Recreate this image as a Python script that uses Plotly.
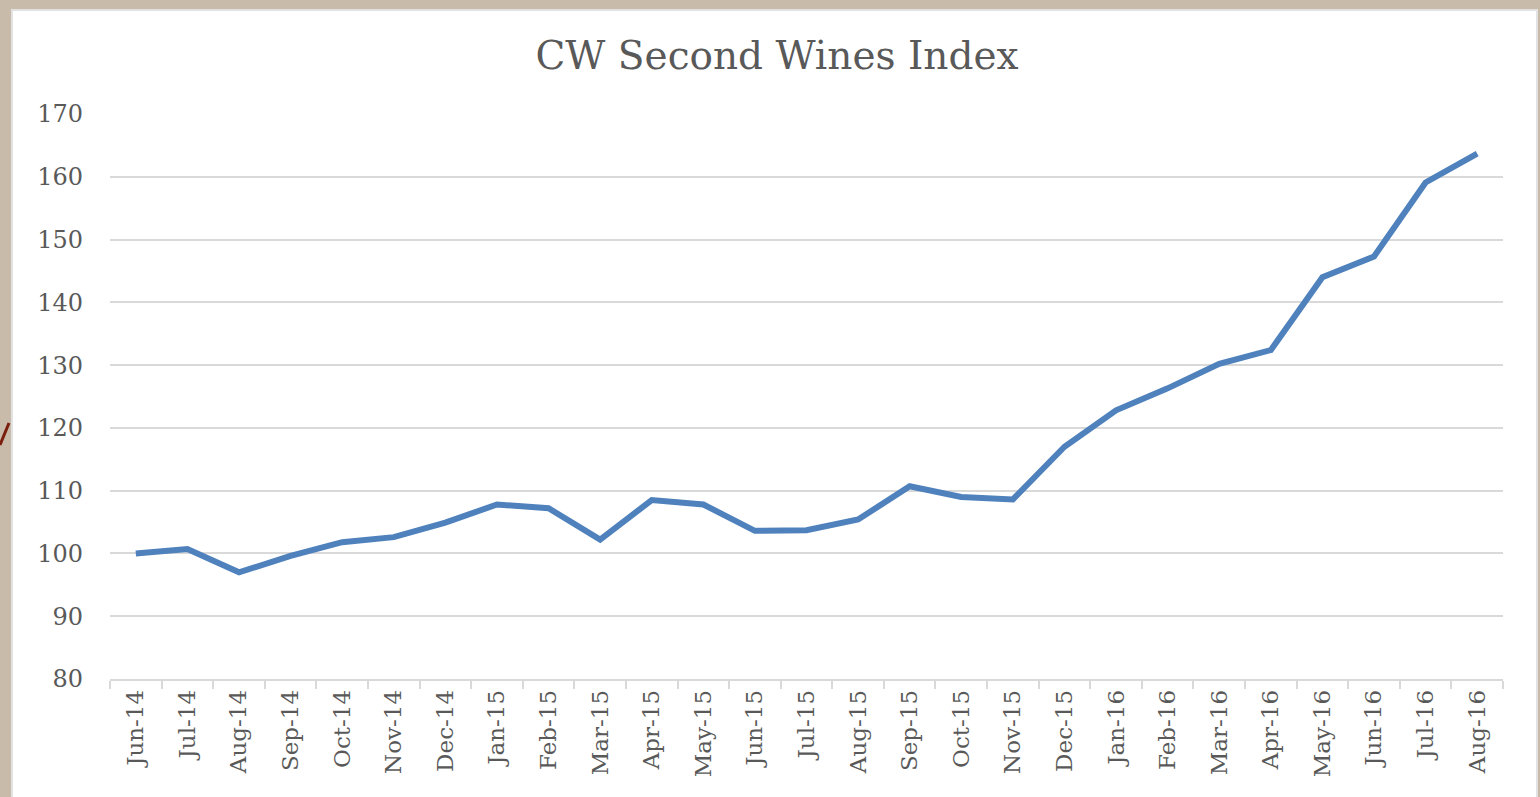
import plotly.graph_objects as go

months = ["Jun-14", "Jul-14", "Aug-14", "Sep-14", "Oct-14", "Nov-14", "Dec-14",
          "Jan-15", "Feb-15", "Mar-15", "Apr-15", "May-15", "Jun-15", "Jul-15",
          "Aug-15", "Sep-15", "Oct-15", "Nov-15", "Dec-15", "Jan-16", "Feb-16",
          "Mar-16", "Apr-16", "May-16", "Jun-16", "Jul-16", "Aug-16"]
index_values = [100.0, 100.7, 97.0, 99.6, 101.8, 102.6, 104.9,
                107.8, 107.2, 102.2, 108.5, 107.8, 103.6, 103.7,
                105.4, 110.7, 109.0, 108.6, 117.0, 122.8, 126.3,
                130.2, 132.4, 144.0, 147.3, 159.1, 163.7]
y_ticks = [80, 90, 100, 110, 120, 130, 140, 150, 160, 170]

W, H = 1540, 797
ml, mr, mt, mb = 110, 37, 114, 118
pw, ph = W - ml - mr, H - mt - mb

def px_to_paper_x(px):
    return (px - ml) / pw

def px_to_paper_y(py):
    return (H - mb - py) / ph

font_family = "DejaVu Serif, Liberation Serif, serif"

fig = go.Figure()
fig.add_trace(go.Scatter(
    x=months, y=index_values, mode="lines",
    line=dict(color="#4F81BD", width=6),
    showlegend=False, hoverinfo="x+y",
))

fig.update_layout(
    width=W, height=H,
    margin=dict(l=ml, r=mr, t=mt, b=mb),
    paper_bgcolor="#C9BBAA",
    plot_bgcolor="white",
    title=dict(text="CW Second Wines Index", x=777 / W, xref="container", y=1 - 55 / H, yref="container",
               xanchor="center", yanchor="middle",
               font=dict(family="DejaVu Serif, serif", size=39, color="#595959")),
    xaxis=dict(
        type="category", tickangle=-90, showgrid=False,
        showline=True, linecolor="#D9D9D9", linewidth=1.5,
        ticks="outside", tickson="boundaries", ticklen=8, tickcolor="#D9D9D9", tickwidth=1.5,
        tickfont=dict(family=font_family, size=23, color="#595959"),
        range=[-0.5, len(months) - 0.5], fixedrange=True,
    ),
    yaxis=dict(
        range=[80, 170], tickmode="array", tickvals=y_ticks,
        showgrid=True, gridcolor="#D9D9D9", gridwidth=1.5,
        zeroline=False, showline=False, ticks="",
        ticklabelstandoff=26,
        tickfont=dict(family=font_family, size=24, color="#595959"),
        fixedrange=True,
    ),
    shapes=[
        dict(type="rect", xref="paper", yref="paper", layer="below",
             x0=px_to_paper_x(12), x1=px_to_paper_x(1537),
             y0=px_to_paper_y(H + 5), y1=px_to_paper_y(10),
             fillcolor="white", line=dict(color="#E2E2E2", width=2)),
        dict(type="line", xref="paper", yref="paper",
             x0=px_to_paper_x(0), y0=px_to_paper_y(445),
             x1=px_to_paper_x(9), y1=px_to_paper_y(423),
             line=dict(color="#7A1E0E", width=3)),
    ],
)

fig.write_html("out.html", config={"displayModeBar": False},
               post_script="document.body.style.margin='0';document.body.style.padding='0';")
